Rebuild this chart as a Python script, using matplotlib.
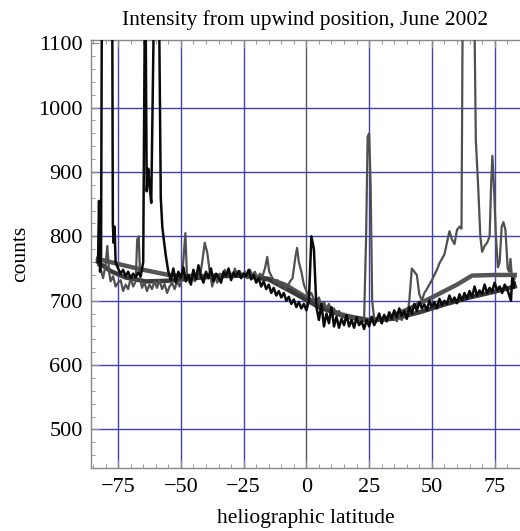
import matplotlib
matplotlib.use('Agg')
import matplotlib.pyplot as plt
from matplotlib.ticker import MultipleLocator

plt.rcParams['font.family'] = ['Liberation Serif', 'DejaVu Serif']

# Black noisy trace (upwind position)
lat_black = [-83.0, -82.6, -82.2, -81.8, -81.4, -77.4, -77.1, -76.8, -76.4, -76.0,
             -75, -74, -73, -72, -71, -70, -69, -68, -67, -66,
             -65.0, -64.2, -63.6, -63.0, -62.5, -61.8, -60.4, -58.9, -58.0, -57.4,
             -56.8, -56, -55, -54, -53, -52, -51, -50, -49, -48,
             -47, -46, -45, -44, -43, -42, -41, -40, -39, -38,
             -37, -36, -35, -34, -33, -32, -31, -30, -29, -28,
             -27, -26, -25, -24, -23, -22, -21, -20, -19, -18,
             -17, -16, -15, -14, -13, -12, -11, -10, -9, -8,
             -7, -6, -5, -4, -3, -2, -1, 0, 1, 2,
             3, 4, 5, 6, 7, 8, 9, 10, 11, 12,
             13, 14, 15, 16, 17, 18, 19, 20, 21, 22,
             23, 24, 25, 26, 27, 28, 29, 30, 31, 32,
             33, 34, 35, 36, 37, 38, 39, 40, 41, 42,
             43, 44, 45, 46, 47, 48, 49, 50, 51, 52,
             53, 54, 55, 56, 57, 58, 59, 60, 61, 62,
             63, 64, 65, 66, 67, 68, 69, 70, 71, 72,
             73, 74, 75, 76, 77, 78, 79, 80, 81, 81.5,
             82, 82.5, 83]
cnt_black = [760, 855, 745, 770, 1250, 1250, 820, 790, 815, 760,
             750, 742, 748, 738, 745, 735, 742, 736, 744, 738,
             760, 1250, 870, 905, 880, 852, 1250, 1250, 860, 815,
             795, 770, 745, 732, 750, 728, 745, 735, 752, 730,
             740, 725, 748, 733, 755, 738, 728, 745, 735, 750,
             730, 742, 736, 728, 745, 738, 750, 732, 744, 738,
             746, 735, 742, 738, 748, 733, 740, 728, 735, 722,
             730, 718, 725, 712, 720, 708, 715, 705, 712, 700,
             706, 695, 702, 690, 698, 688, 695, 685, 700, 800,
             780, 690, 670, 695, 660, 680, 665, 690, 660, 675,
             658, 672, 662, 678, 660, 670, 658, 674, 662, 668,
             656, 670, 660, 675, 662, 670, 680, 665, 678, 668,
             682, 672, 685, 674, 688, 676, 684, 672, 690, 680,
             695, 684, 698, 688, 694, 685, 700, 690, 698, 688,
             703, 693, 700, 695, 708, 698, 705, 696, 710, 700,
             712, 703, 715, 706, 722, 708, 716, 710, 725, 712,
             720, 714, 728, 716, 722, 712, 725, 718, 706, 700,
             735, 720, 728]

# Gray noisy trace
lat_gray = [-83, -82.5, -82, -81, -80, -79.3, -78.6, -78, -77, -76,
            -75, -74, -73, -72, -71, -70, -69, -68, -67.4, -66.8,
            -66.2, -65.5, -64.5, -63.5, -62.5, -61.5, -60.5, -59.5, -58.5, -57.5,
            -56.5, -55.5, -54.5, -53.5, -52.5, -51.5, -50.5, -49.5, -48.2, -47.6,
            -46.5, -45.5, -44.5, -43.5, -42.5, -41.5, -40.5, -39.5, -38.5, -37.5,
            -36.5, -35.5, -34.5, -33.5, -32.5, -31.5, -30.5, -29.5, -28.5, -27.5,
            -26.5, -25.5, -24.5, -23.5, -22.5, -21.5, -20.5, -19.5, -18.5, -17.5,
            -16.5, -15.6, -14.8, -13.5, -12.5, -11.5, -10.5, -9.5, -8.5, -7.5,
            -6.5, -5.5, -4.3, -3.7, -3.0, -2.0, -1.0, 0, 1, 2,
            3, 4, 5, 6, 7, 8, 9, 10, 11, 12,
            13, 14, 15, 16, 17, 18, 19, 20, 21, 22,
            23, 23.8, 24.4, 25.0, 25.6, 26.2, 27, 28, 29, 30,
            31, 32, 33, 34, 35, 36, 37, 38, 39, 40,
            41, 42, 43, 44, 45, 46, 47, 48, 49, 50,
            51, 52, 53, 54, 55, 56, 57, 58, 59, 60,
            61, 61.8, 62.6, 66.2, 67.5, 68.5, 69.3, 70, 71, 72,
            73, 73.6, 74.1, 74.8, 75.5, 76.3, 77, 77.8, 78.5, 79.3,
            80.2, 80.8, 81.3, 81.8, 82.5, 83]
cnt_gray = [755, 775, 750, 735, 755, 785, 745, 730, 738, 722,
            728, 732, 715, 725, 718, 735, 722, 730, 795, 800,
            735, 720, 728, 715, 725, 718, 730, 720, 732, 718,
            726, 712, 722, 728, 718, 730, 722, 738, 805, 740,
            728, 742, 730, 745, 735, 760, 790, 775, 745, 722,
            738, 728, 742, 735, 748, 738, 745, 735, 750, 740,
            746, 738, 745, 735, 748, 740, 745, 735, 742, 738,
            750, 768, 745, 735, 728, 732, 722, 728, 718, 722,
            730, 735, 770, 782, 760, 745, 725, 715, 708, 712,
            702, 698, 705, 692, 698, 688, 695, 682, 688, 678,
            684, 675, 680, 672, 678, 668, 675, 668, 672, 665,
            672, 800, 955, 960, 880, 700, 672, 668, 675, 665,
            672, 668, 678, 670, 676, 668, 675, 670, 680, 672,
            700, 750, 745, 740, 710, 700, 712, 718, 725, 732,
            740, 748, 758, 765, 772, 790, 808, 795, 788, 810,
            815, 812, 1400, 1400, 950, 872, 800, 776, 785, 790,
            800, 880, 925, 870, 800, 752, 760, 815, 822, 810,
            750, 745, 765, 740, 730, 735]

# Smooth model curves
lat_fit1 = [-83, -75, -65, -55, -45, -35, -25, -15, -8, 0,
            8, 15, 25, 32, 40, 50, 60, 66, 75, 83]
cnt_fit1 = [765, 757, 748, 740, 738, 739, 740, 734, 724, 705,
            688, 677, 670, 673, 686, 705, 725, 739, 740, 740]

lat_fit2 = [-83, -78, -72, -64, -55, -45, -35, -25, -15, -5,
            5, 15, 25, 35, 45, 55, 65, 75, 83]
cnt_fit2 = [760, 746, 736, 730, 731, 735, 738, 739, 733, 712,
            690, 676, 669, 672, 682, 694, 705, 714, 722]

fig = plt.figure(figsize=(5.2, 5.31), dpi=100)
ax = fig.add_axes([0.175, 0.1186, 0.825, 0.806])

# grid
grid_col = '#4040b0'
for gx in [-75, -50, -25, 25, 50, 75]:
    ax.axvline(gx, color=grid_col, lw=1.0, zorder=1, snap=True)
ax.axvline(0, color='#55556a', lw=1.0, zorder=1, snap=True)
for gy in [500, 600, 700, 800, 900, 1000]:
    ax.axhline(gy, color=grid_col, lw=1.0, zorder=1, snap=True)

ax.plot(lat_fit1, cnt_fit1, color='#555555', lw=3.2, zorder=2)
ax.plot(lat_fit2, cnt_fit2, color='#3a3a3a', lw=3.2, zorder=2)
ax.plot(lat_gray, cnt_gray, color='#505050', lw=1.6, zorder=3)
ax.plot(lat_black, cnt_black, color='#0a0a0a', lw=1.8, zorder=4)

ax.set_xlim(-85.8, 85.1)
ax.set_ylim(440, 1105)

ax.xaxis.set_major_locator(MultipleLocator(25))
ax.xaxis.set_minor_locator(MultipleLocator(5))
ax.yaxis.set_major_locator(MultipleLocator(100))
ax.yaxis.set_minor_locator(MultipleLocator(20))
ax.tick_params(which='both', direction='in', top=True, right=False,
               colors='#888888', labelcolor='black')
ax.tick_params(which='major', length=6, width=0.8, labelsize=16)
ax.tick_params(which='minor', length=3, width=0.6)
ax.tick_params(axis='x', pad=7)
ax.tick_params(axis='y', pad=6)

for side in ['left', 'bottom', 'top']:
    ax.spines[side].set_color('#888888')
    ax.spines[side].set_linewidth(1.0)
ax.spines['right'].set_visible(False)

ax.set_title('Intensity from upwind position, June 2002', fontsize=15.5, pad=11)
ax.set_xlabel('heliographic latitude', fontsize=15.5, labelpad=9)
ax.set_ylabel('counts', fontsize=15.5, labelpad=6)

fig.savefig('out.png', dpi=100)
